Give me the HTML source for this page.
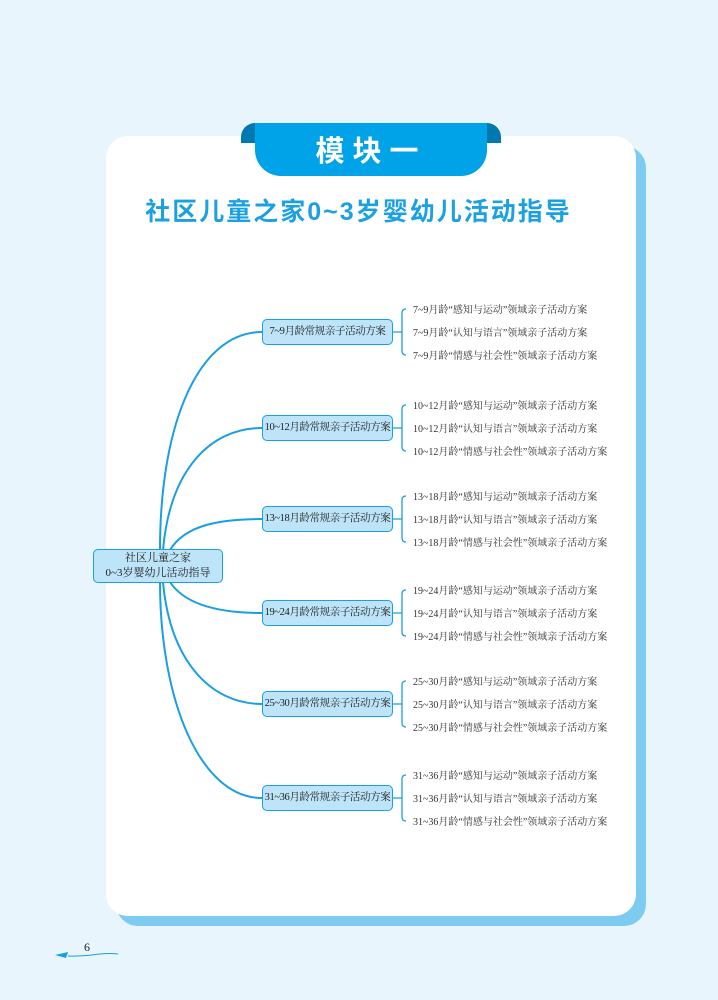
<!DOCTYPE html>
<html><head><meta charset="utf-8"><style>
body{margin:0;width:718px;height:1000px;background:#e8f5fd;position:relative;overflow:hidden;font-family:"Liberation Serif","Noto Serif CJK SC",serif;}
.abs{position:absolute}
</style></head><body>
<div class="abs" style="left:116px;top:146px;width:530px;height:780px;background:#7ecbf2;border-radius:22px"></div>
<div class="abs" style="left:106px;top:136px;width:530px;height:780px;background:#fff;border-radius:22px"></div>
<div class="abs" style="left:241px;top:123px;width:260px;height:20px;background:#0079b0;border-radius:14px 14px 0 0"></div>
<div class="abs" style="left:255px;top:123px;width:232px;height:53px;background:#00a2e8;border-radius:0 0 26px 26px"></div>
<div class="abs" style="left:255px;top:128px;width:232px;text-align:center;color:#fff;font:bold 29px 'Noto Sans CJK SC',sans-serif;letter-spacing:8px">模块一</div>
<div class="abs" style="left:106px;top:192px;width:505px;text-align:center;color:#1ba1e2;font:bold 25px 'Liberation Sans','Noto Sans CJK SC',sans-serif;letter-spacing:2px">社区儿童之家0~3岁婴幼儿活动指导</div>
<svg class="abs" style="left:0;top:0" width="718" height="1000" fill="none" stroke="#1a9fe0" stroke-width="2">
<path d="M160 550 C160 420 200 332 262 332"/>
<path d="M163 550 C170 470 210 428 262 428"/>
<path d="M170 550 C185 525 220 519 262 519"/>
<path d="M170 582 C185 605 220 613 262 613"/>
<path d="M163 582 C170 660 210 704 262 704"/>
<path d="M160 582 C160 700 200 798 262 798"/>
<g stroke-width="1.3">
<path d="M393 332H402M406 309 Q402 309 402 313 V351 Q402 355 406 355"/>
<path d="M393 428H402M406 405 Q402 405 402 409 V447 Q402 451 406 451"/>
<path d="M393 519H402M406 496 Q402 496 402 500 V538 Q402 542 406 542"/>
<path d="M393 613H402M406 590 Q402 590 402 594 V632 Q402 636 406 636"/>
<path d="M393 704H402M406 681 Q402 681 402 685 V723 Q402 727 406 727"/>
<path d="M393 798H402M406 775 Q402 775 402 779 V817 Q402 821 406 821"/>
</g>
<path d="M55 955 L68 952 L66 958 Z" fill="#1a9fe0" stroke="none"/>
<path d="M68 956 C90 957 100 952 118 954" stroke-width="1"/>
</svg>
<div class="abs" style="left:93px;top:549px;width:128px;height:31px;background:#bde4f8;border:1.5px solid #1a9fe0;border-radius:5px;text-align:center;font-size:11px;line-height:15px;padding-top:1px;color:#222">社区儿童之家<br>0~3岁婴幼儿活动指导</div>
<div id="b"></div>
<script>
var ys=[332,428,519,613,704,798],ages=["7~9","10~12","13~18","19~24","25~30","31~36"],h="";
var L=["“感知与运动”领域亲子活动方案","“认知与语言”领域亲子活动方案","“情感与社会性”领域亲子活动方案"];
for(var i=0;i<6;i++){var y=ys[i];
h+='<div class="abs" style="left:262px;top:'+(y-13)+'px;width:129px;height:24px;background:#bde4f8;border:1.5px solid #1a9fe0;border-radius:5px;text-align:center;font-size:10.5px;letter-spacing:-0.4px;line-height:24px;color:#222;white-space:nowrap;overflow:hidden">'+ages[i]+'月龄常规亲子活动方案</div>';
for(var j=0;j<3;j++)h+='<div class="abs" style="left:413px;top:'+(y-28+j*23)+'px;font-size:10px;line-height:14px;color:#333;white-space:nowrap">'+ages[i]+'月龄'+L[j]+'</div>';}
document.getElementById("b").innerHTML=h;
</script>
<div class="abs" style="left:84px;top:940px;font-size:12px;color:#222">6</div>
</body></html>
